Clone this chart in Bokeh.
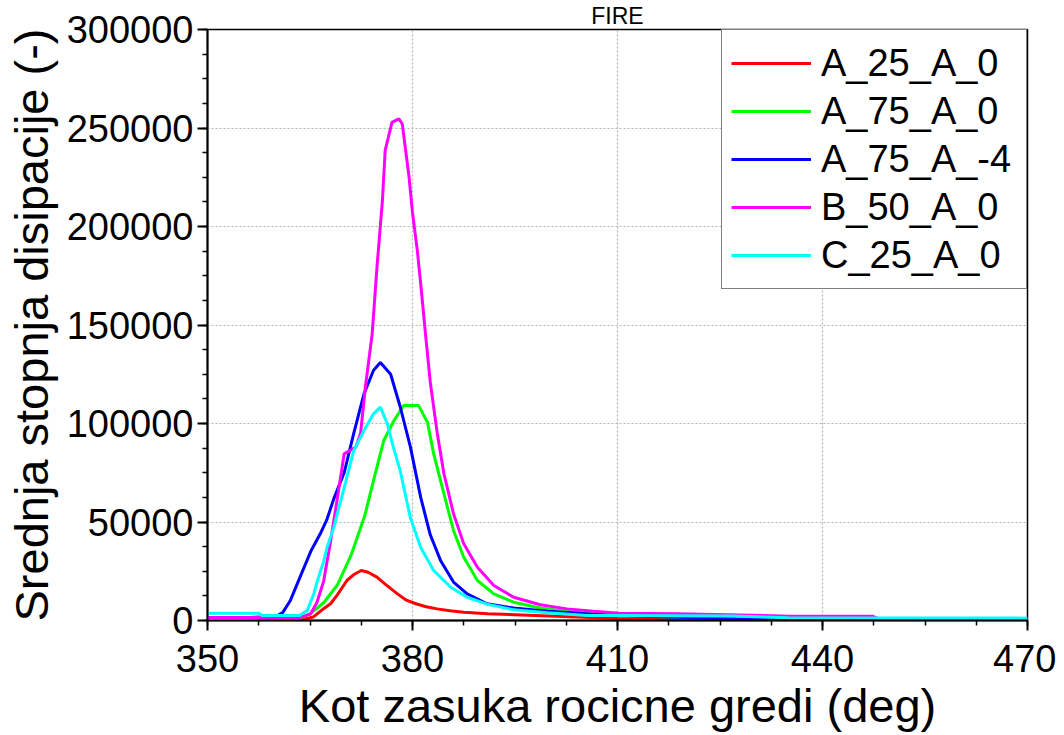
import numpy as np
from bokeh.plotting import figure
from bokeh.models import FixedTicker, NumeralTickFormatter, Legend, LegendItem
from bokeh.embed import file_html
from bokeh.resources import INLINE

# ---------------- data ----------------
title_text = "FIRE"
x_label = "Kot zasuka rocicne gredi (deg)"
y_label = "Srednja stopnja disipacije (-)"

series_names = ["A_25_A_0", "A_75_A_0", "A_75_A_-4", "B_50_A_0", "C_25_A_0"]

red_x = [350, 355, 360, 361.5, 363.5, 365.5, 367, 368, 369, 370.4, 371.5, 372.5, 373.5, 374.8, 376,
         377.8, 379, 380.5, 382, 383.6, 385.5, 387.5, 391, 395, 400, 405, 410, 418, 427.5, 470]
red_y = [1500, 1500, 1200, 300, 300, 1800, 6000, 8500, 13000, 20300, 23500, 25400, 24500, 22000, 18500,
         13500, 10500, 8500, 7000, 5900, 5000, 4200, 3400, 2900, 2300, 1600, 1000, 700, 400, 200]

green_x = [350, 359.5, 360.5, 363, 365, 367, 369, 371, 373, 374.3, 375.8, 377.3, 378.7, 380.9, 382.2,
           383.1, 384.6, 386, 387.5, 389.5, 391.9, 394.8, 398.7, 402.6, 406, 410, 420, 430, 445, 470]
green_y = [1500, 1500, 300, 500, 3400, 9000, 18000, 33000, 53000, 71100, 91400, 101500, 109100, 109100, 100500,
           84600, 64300, 45700, 32100, 20300, 13500, 9300, 6300, 4600, 3500, 2600, 1500, 1000, 700, 500]

blue_x = [350, 356, 360, 361, 362.1, 363.6, 365.1, 366.5, 367.5, 368.5, 370, 371.4, 372.9, 374.3, 375.3,
          376.8, 378.2, 379.7, 381.2, 382.6, 384.1, 386, 388, 390.9, 394.8, 399.7, 405.6, 410, 420, 427.5,
          435, 436, 470]
blue_y = [1500, 1500, 2000, 4000, 10000, 22500, 35000, 44000, 51500, 62000, 75000, 95000, 115000, 127000, 131000,
          125000, 108500, 88000, 62500, 43500, 30500, 19500, 13500, 8500, 6300, 4700, 3400, 2500, 1500, 800,
          600, 300, 200]

magenta_x = [350, 362, 363.5, 365.1, 366, 367, 368, 369, 370, 371.7, 372.4, 373.1, 374.1, 374.8, 375.6,
             376, 377, 378, 378.5, 379.5, 380, 380.7, 381.2, 381.9, 382.6, 383.6, 384.6, 386, 387.5, 389.5,
             391.9, 394.8, 398.7, 402.6, 406.5, 410.2, 418.7, 435.3, 447.3, 448, 470]
magenta_y = [1500, 1500, 1500, 3400, 9000, 20000, 40000, 62000, 84600, 88000, 95000, 118400, 145500, 179300, 213200,
             238600, 252900, 254600, 252100, 225000, 207000, 188000, 171000, 145500, 121000, 95600, 74500, 54200, 38900, 27000,
             17800, 11800, 8000, 5900, 4700, 3700, 3400, 2200, 2200, 1200, 1000]

cyan_x = [350, 357.5, 358, 363.5, 364.6, 365.6, 366.1, 367, 367.5, 368.5, 369, 370.2, 371.4, 372.9, 374.3,
          375.3, 376.3, 377.2, 378.2, 379.7, 381.2, 383.1, 385.6, 388, 390.9, 394.8, 399.7, 405.6, 410, 427,
          435, 470]
cyan_y = [3700, 3700, 2600, 2600, 5100, 14000, 20300, 30000, 37200, 47400, 54200, 70000, 86300, 96400, 104900,
          108300, 100000, 88000, 76000, 52000, 37000, 25400, 16900, 11800, 8300, 5400, 3900, 2500, 2500, 2300,
          1400, 1200]

x_ticks = [350, 380, 410, 440, 470]
y_ticks = [0, 50000, 100000, 150000, 200000, 250000, 300000]

colors = ["#ff0000", "#00ff00", "#0000ff", "#ff00ff", "#00ffff"]
FONT = "Liberation Sans"

# ---------------- figure ----------------
p = figure(width=1056, height=735, output_backend="svg", toolbar_location=None,
           x_range=(350, 470), y_range=(0, 300000),
           min_border_left=207, min_border_right=29, min_border_top=29, min_border_bottom=115,
           background_fill_color="white", border_fill_color="white")

p.title.text = title_text
p.title.text_font = FONT
p.title.text_font_size = "23px"
p.title.text_font_style = "normal"
p.title.text_color = "black"
p.title.align = "center"
p.title.standoff = 1
p.title.offset = 0

p.outline_line_color = "black"
p.outline_line_width = 1.5

xs_all = [red_x, green_x, blue_x, magenta_x, cyan_x]
ys_all = [red_y, green_y, blue_y, magenta_y, cyan_y]
renderers = []
for xs, ys, c in zip(xs_all, ys_all, colors):
    r = p.line(xs, ys, line_color=c, line_width=3)
    renderers.append(r)

# axes
p.xaxis.ticker = FixedTicker(ticks=x_ticks, minor_ticks=list(np.arange(350, 470.01, 7.5)))
p.yaxis.ticker = FixedTicker(ticks=y_ticks, minor_ticks=list(np.arange(0, 300001, 12500)))
p.yaxis.formatter = NumeralTickFormatter(format="0")

for ax in (p.xaxis[0], p.yaxis[0]):
    ax.axis_line_color = "black"
    ax.axis_line_width = 2
    ax.major_tick_line_color = "black"
    ax.major_tick_line_width = 2
    ax.minor_tick_line_color = "black"
    ax.minor_tick_line_width = 1.5
    ax.major_tick_out = 10
    ax.major_tick_in = 0
    ax.minor_tick_out = 5
    ax.minor_tick_in = 0
    ax.major_label_text_font = FONT
    ax.major_label_text_font_size = "38px"
    ax.major_label_text_color = "black"
    ax.axis_label_text_font = FONT
    ax.axis_label_text_font_size = "47px"
    ax.axis_label_text_font_style = "normal"
    ax.axis_label_text_color = "black"

p.xaxis.axis_label = x_label
p.yaxis.axis_label = y_label
p.xaxis.major_label_standoff = 14
p.xaxis.axis_label_standoff = 4
p.yaxis.major_label_standoff = 4
p.yaxis.axis_label_standoff = 6

# grid
for g in (p.xgrid[0], p.ygrid[0]):
    g.grid_line_color = "#b4b4b4"
    g.grid_line_width = 1.2
    g.grid_line_dash = "2 2"
p.xgrid.ticker = FixedTicker(ticks=x_ticks)
p.ygrid.ticker = FixedTicker(ticks=y_ticks)

# legend
items = [LegendItem(label=n, renderers=[r]) for n, r in zip(series_names, renderers)]
legend = Legend(items=items, location="top_right", margin=0, padding=9, spacing=0,
                glyph_width=80, glyph_height=48, label_height=48, label_width=196,
                label_standoff=10, label_text_font=FONT, label_text_font_size="38px",
                label_text_color="black", label_text_baseline="middle",
                border_line_color="black", border_line_width=1.5,
                background_fill_color="white", background_fill_alpha=1.0)
p.add_layout(legend, "center")

open("out.html", "w").write(file_html(p, INLINE))
